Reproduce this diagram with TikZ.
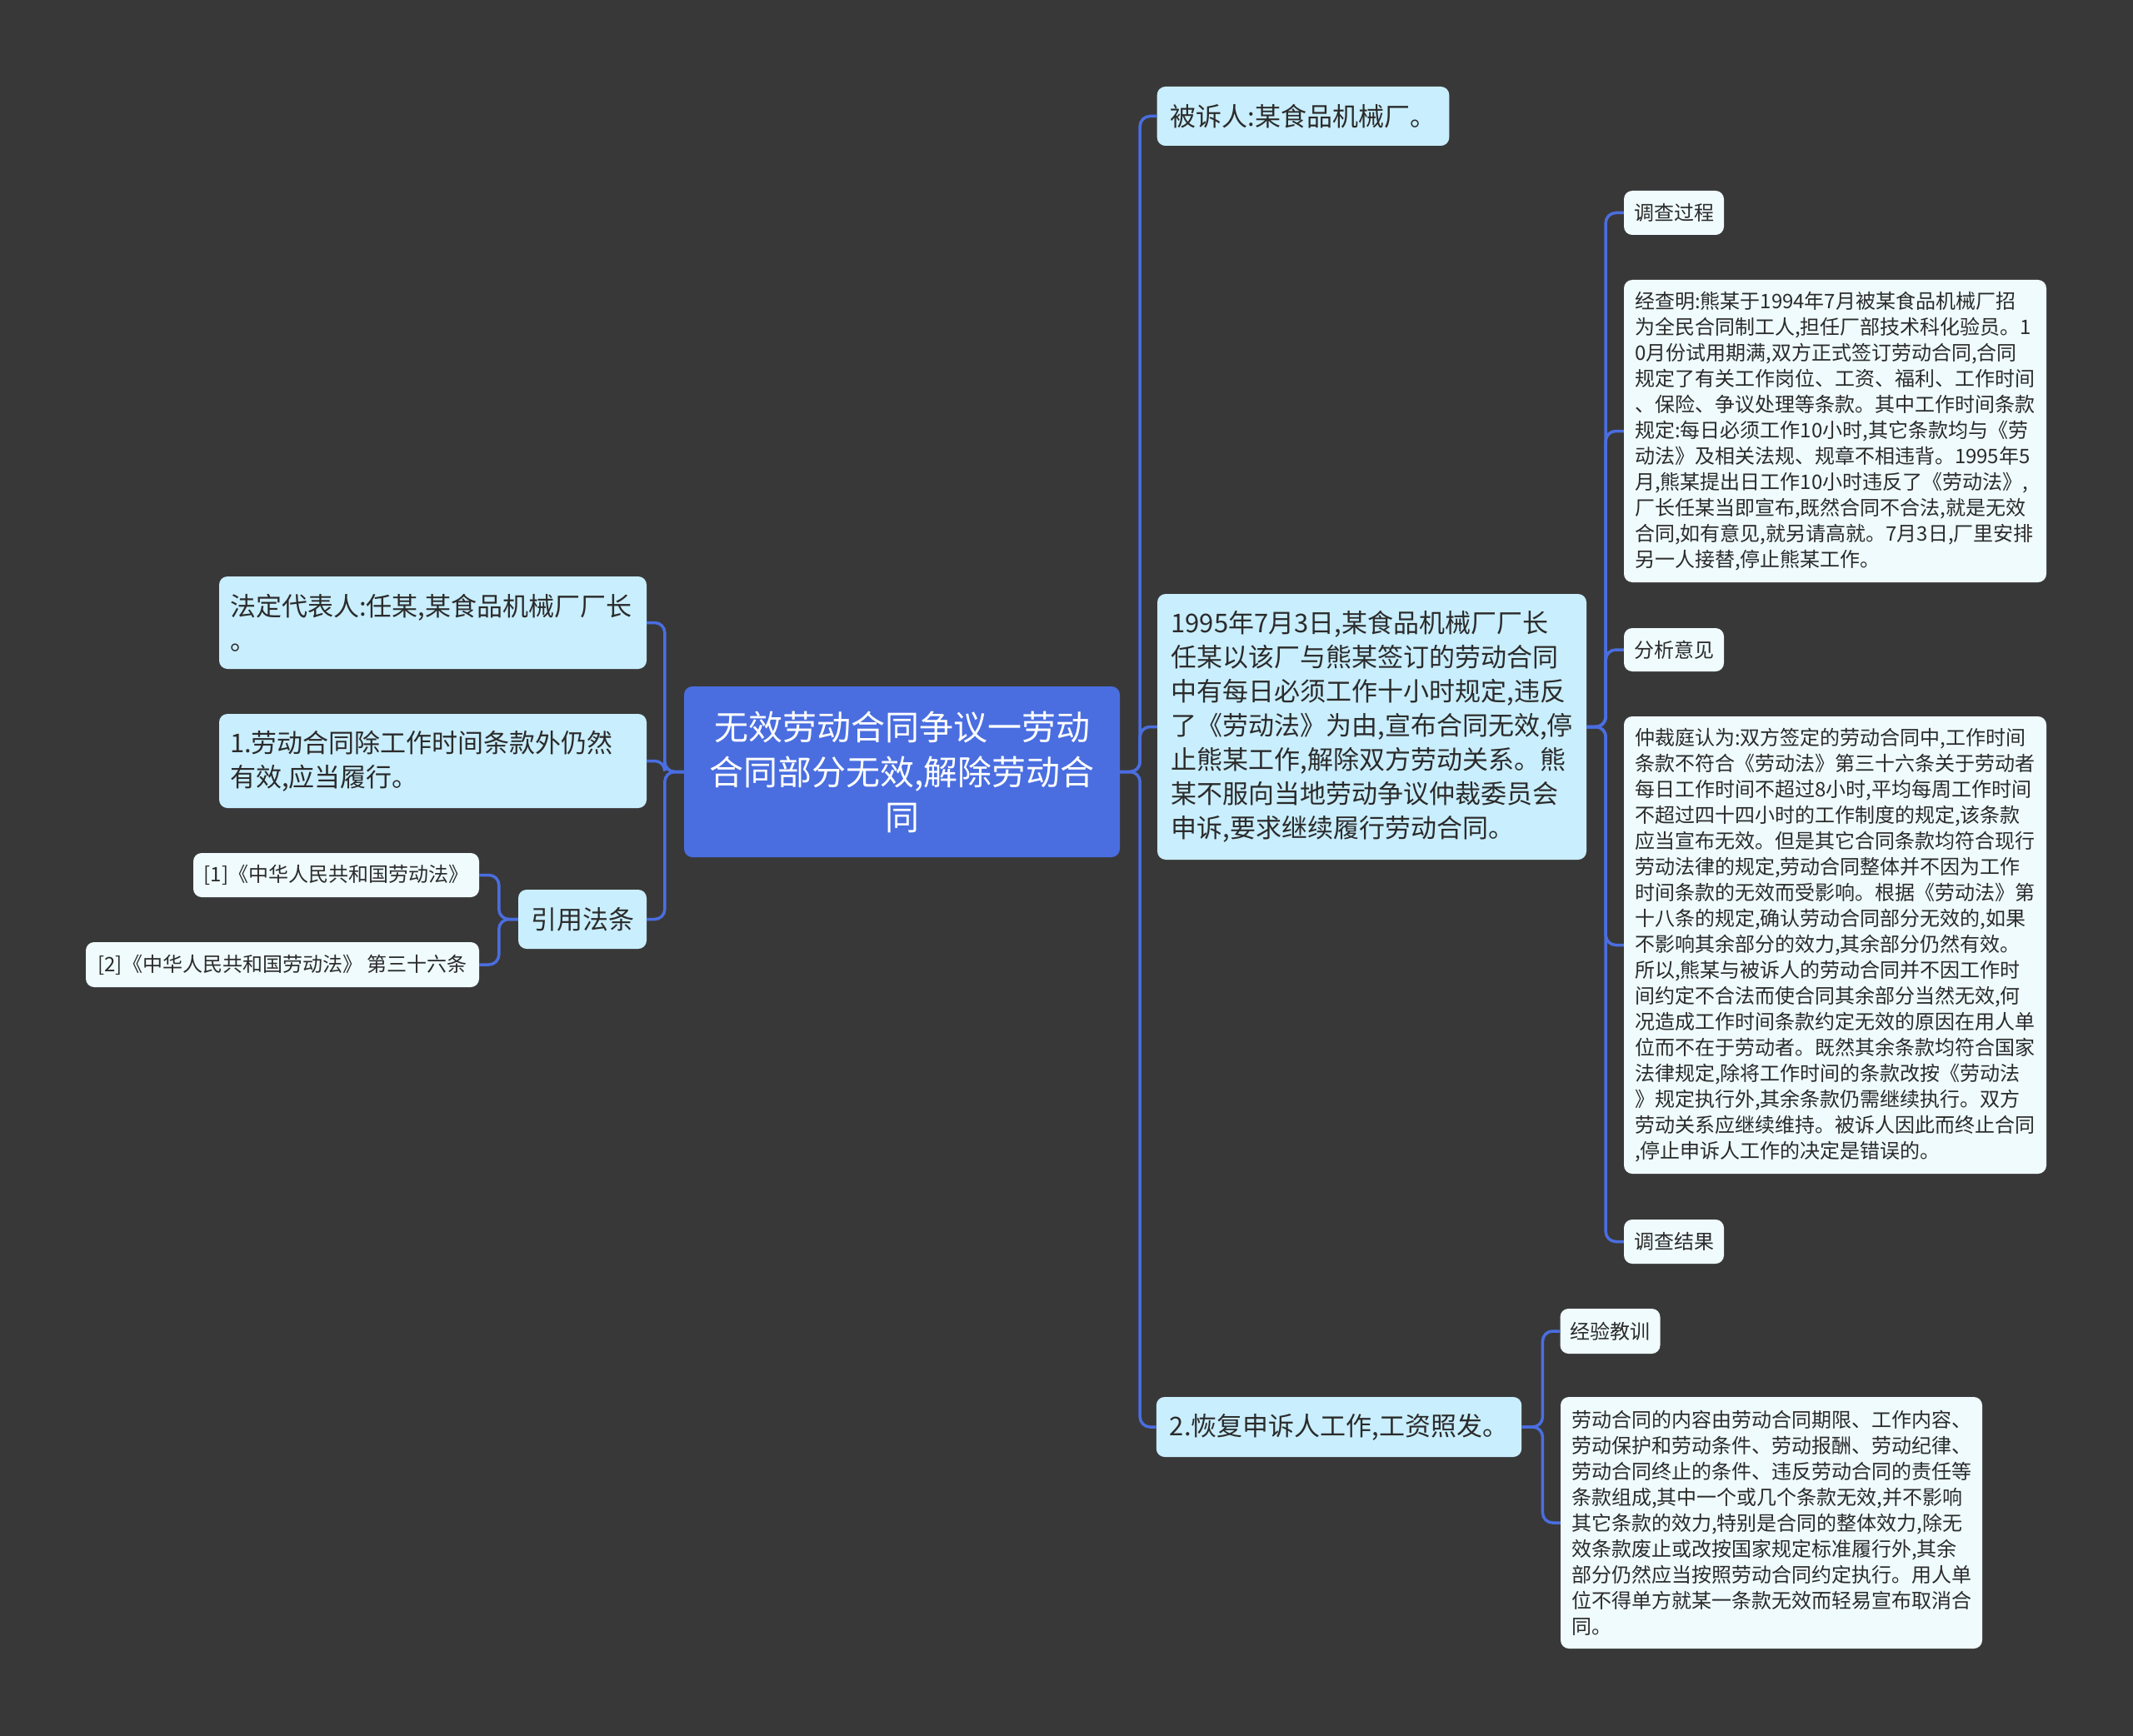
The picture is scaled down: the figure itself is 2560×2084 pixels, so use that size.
\documentclass[tikz,border=0pt]{standalone}
\usepackage{fontspec}
\setmainfont{Noto Sans CJK SC}
\usepackage{tikz}
\usetikzlibrary{positioning, calc}

\definecolor{bgdark}{HTML}{393839}
\definecolor{rootblue}{HTML}{4A6EE0}
\definecolor{linkblue}{HTML}{4A6EE0}
\definecolor{mainfill}{HTML}{C9EEFD}
\definecolor{subfill}{HTML}{EFFBFD}
\definecolor{inkdark}{HTML}{2B2B2B}

\begin{document}
\begin{tikzpicture}[
    x=1pt, y=-1pt,
    root/.style={fill=rootblue, rounded corners=10, text=white, align=center, inner sep=0,
        font=\fontsize{41}{54}\selectfont, minimum width=523, minimum height=205},
    topic/.style={fill=mainfill, rounded corners=10, text=inkdark, align=left, inner xsep=16, inner ysep=0,
        font=\fontsize{31}{41}\selectfont},
    leaf/.style={fill=subfill, rounded corners=10, text=inkdark, align=left, inner xsep=13, inner ysep=0,
        font=\fontsize{24}{31}\selectfont},
    link/.style={draw=linkblue, line width=3.5, rounded corners=12},
]

    \fill[bgdark] (0,0) rectangle (2560,2084);

    \node[root] (root) at (1082.5,926.5)
        {无效劳动合同争议一劳动\\合同部分无效,解除劳动合\\同};

    % right side
    \node[topic, minimum width=350, minimum height=71] (accused) at (1564,139.5)
        {被诉人:某食品机械厂。};
    \node[topic, text width=482, minimum height=319, inner xsep=16.5] (case) at (1646.5,872.5)
        {1995年7月3日,某食品机械厂厂长\\
         任某以该厂与熊某签订的劳动合同\\
         中有每日必须工作十小时规定,违反\\
         了《劳动法》为由,宣布合同无效,停\\
         止熊某工作,解除双方劳动关系。熊\\
         某不服向当地劳动争议仲裁委员会\\
         申诉,要求继续履行劳动合同。};
    \node[topic, minimum width=436, minimum height=72] (restore) at (1607,1713)
        {2.恢复申诉人工作,工资照发。};

    \node[leaf, minimum width=120, minimum height=53, inner xsep=0] (probe) at (2009,255.5) {调查过程};
    \node[leaf, text width=481, minimum height=363] (facts) at (2202.5,517.5)
        {经查明:熊某于1994年7月被某食品机械厂招\\
         为全民合同制工人,担任厂部技术科化验员。1\\
         0月份试用期满,双方正式签订劳动合同,合同\\
         规定了有关工作岗位、工资、福利、工作时间\\
         、保险、争议处理等条款。其中工作时间条款\\
         规定:每日必须工作10小时,其它条款均与《劳\\
         动法》及相关法规、规章不相违背。1995年5\\
         月,熊某提出日工作10小时违反了《劳动法》,\\
         厂长任某当即宣布,既然合同不合法,就是无效\\
         合同,如有意见,就另请高就。7月3日,厂里安排\\
         另一人接替,停止熊某工作。};
    \node[leaf, minimum width=120, minimum height=52, inner xsep=0] (analysis) at (2009,780) {分析意见};
    \node[leaf, text width=481, minimum height=549] (ruling) at (2202.5,1134.5)
        {仲裁庭认为:双方签定的劳动合同中,工作时间\\
         条款不符合《劳动法》第三十六条关于劳动者\\
         每日工作时间不超过8小时,平均每周工作时间\\
         不超过四十四小时的工作制度的规定,该条款\\
         应当宣布无效。但是其它合同条款均符合现行\\
         劳动法律的规定,劳动合同整体并不因为工作\\
         时间条款的无效而受影响。根据《劳动法》第\\
         十八条的规定,确认劳动合同部分无效的,如果\\
         不影响其余部分的效力,其余部分仍然有效。\\
         所以,熊某与被诉人的劳动合同并不因工作时\\
         间约定不合法而使合同其余部分当然无效,何\\
         况造成工作时间条款约定无效的原因在用人单\\
         位而不在于劳动者。既然其余条款均符合国家\\
         法律规定,除将工作时间的条款改按《劳动法\\
         》规定执行外,其余条款仍需继续执行。双方\\
         劳动关系应继续维持。被诉人因此而终止合同\\
         ,停止申诉人工作的决定是错误的。};
    \node[leaf, minimum width=120, minimum height=53, inner xsep=0] (result) at (2009,1490.5) {调查结果};

    \node[leaf, minimum width=120, minimum height=54, inner xsep=0] (lesson) at (1932.5,1598) {经验教训};
    \node[leaf, text width=480, minimum height=302] (advice) at (2126,1828)
        {劳动合同的内容由劳动合同期限、工作内容、\\
         劳动保护和劳动条件、劳动报酬、劳动纪律、\\
         劳动合同终止的条件、违反劳动合同的责任等\\
         条款组成,其中一个或几个条款无效,并不影响\\
         其它条款的效力,特别是合同的整体效力,除无\\
         效条款废止或改按国家规定标准履行外,其余\\
         部分仍然应当按照劳动合同约定执行。用人单\\
         位不得单方就某一条款无效而轻易宣布取消合\\
         同。};

    % left side
    \node[topic, text width=487, minimum height=111, inner xsep=13] (legal) at (519.5,747.5)
        {法定代表人:任某,某食品机械厂厂长\\。};
    \node[topic, text width=487, minimum height=113, inner xsep=13] (valid) at (519.5,913.5)
        {1.劳动合同除工作时间条款外仍然\\有效,应当履行。};
    \node[topic, minimum width=154, minimum height=71, inner xsep=0] (cite) at (699,1103.5) {引用法条};
    \node[leaf, minimum width=343, minimum height=53, inner xsep=0] (law1) at (403.5,1050.5)
        {[1]《中华人民共和国劳动法》};
    \node[leaf, minimum width=472, minimum height=54, inner xsep=0] (law2) at (339,1158)
        {[2]《中华人民共和国劳动法》 第三十六条};

    % connectors
    \foreach \kid in {accused, case, restore}
        \draw[link] (root.east) -- ++(24,0) |- (\kid.west);
    \foreach \kid in {legal, valid, cite}
        \draw[link] (root.west) -- ++(-23,0) |- (\kid.east);
    \foreach \kid in {law1, law2}
        \draw[link] (cite.west) -- ++(-23,0) |- (\kid.east);
    \foreach \kid in {probe, facts, analysis, ruling, result}
        \draw[link] (case.east) -- ++(23,0) |- (\kid.west);
    \foreach \kid in {lesson, advice}
        \draw[link] (restore.east) -- ++(25,0) |- (\kid.west);

\end{tikzpicture}
\end{document}
